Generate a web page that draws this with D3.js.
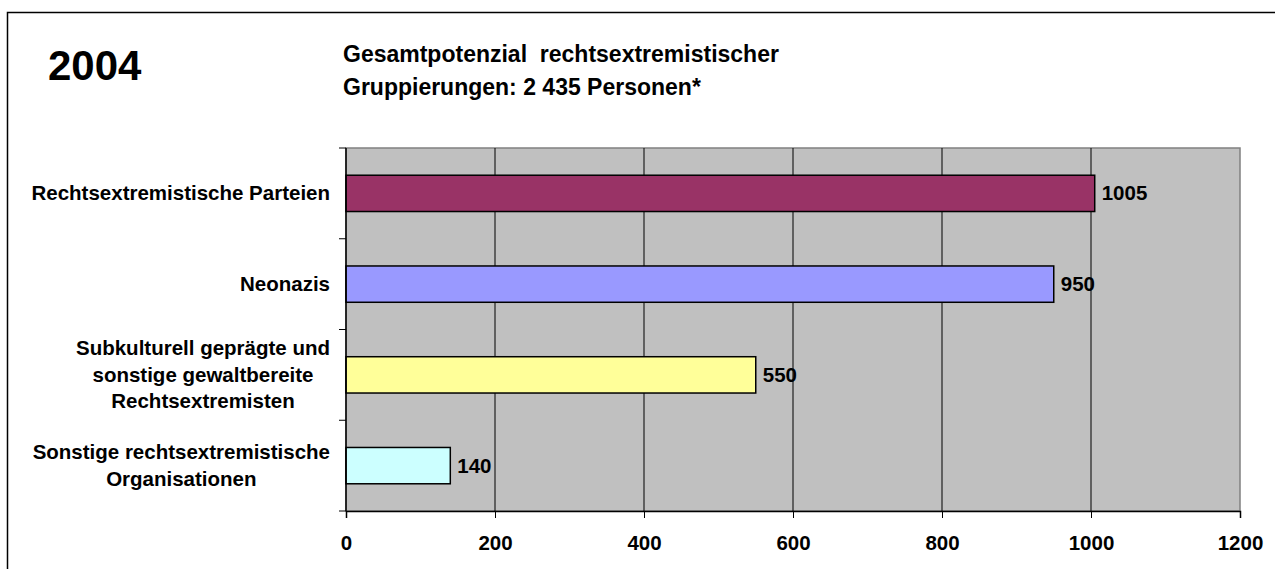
<!DOCTYPE html>
<html lang="de">
<head>
<meta charset="UTF-8">
<title>Gesamtpotenzial rechtsextremistischer Gruppierungen 2004</title>
<style>
  body { margin: 0; background: #fff; }
  svg text { font-family: "Liberation Sans", Arial, sans-serif; font-weight: bold; fill: #000; white-space: pre; }
</style>
</head>
<body>
<div id="chart"></div>
<script src="https://cdn.jsdelivr.net/npm/d3@7"></script>
<script>
// data
const categories = [
  ["Rechtsextremistische Parteien"],
  ["Neonazis"],
  ["Subkulturell geprägte und", "sonstige gewaltbereite", "Rechtsextremisten"],
  ["Sonstige rechtsextremistische", "Organisationen"]
];
const values = [1005, 950, 550, 140];
const xTicks = [0, 200, 400, 600, 800, 1000, 1200];
const barColors = ["#993366", "#9999ff", "#ffff99", "#ccffff"];

const W = 1275, H = 569;
const plot = { left: 346, right: 1240, top: 148, bottom: 511 };

const svg = d3.select("#chart").append("svg")
  .attr("width", W)
  .attr("height", H);

// outer frame (runs off the right and bottom edges)
svg.append("rect")
  .attr("x", 7.5).attr("y", 12.5)
  .attr("width", W + 20).attr("height", H + 20)
  .attr("fill", "none")
  .attr("stroke", "#000")
  .attr("stroke-width", 1.5);

svg.append("text")
  .attr("x", 48).attr("y", 80)
  .style("font-size", "42px")
  .text("2004");

const title = svg.append("text").style("font-size", "23px");
title.append("tspan").attr("x", 343).attr("y", 62).text("Gesamtpotenzial  rechtsextremistischer");
title.append("tspan").attr("x", 343).attr("y", 95).text("Gruppierungen: 2 435 Personen*");

const x = d3.scaleLinear()
  .domain([0, 1200])
  .range([plot.left, plot.right]);

const y = d3.scaleBand()
  .domain(d3.range(categories.length))
  .range([plot.top, plot.bottom])
  .paddingInner(0.6)
  .paddingOuter(0.3);

// plot area
svg.append("rect")
  .attr("x", plot.left).attr("y", plot.top)
  .attr("width", plot.right - plot.left)
  .attr("height", plot.bottom - plot.top)
  .attr("fill", "#c0c0c0")
  .attr("stroke", "#808080")
  .attr("stroke-width", 1.5);

// gridlines
svg.append("g")
  .selectAll("line")
  .data(xTicks.filter(d => d > 0 && d < 1200))
  .enter().append("line")
  .attr("x1", d => x(d)).attr("x2", d => x(d))
  .attr("y1", plot.top).attr("y2", plot.bottom)
  .attr("stroke", "#000")
  .attr("stroke-width", 1);

// bars
svg.append("g")
  .selectAll("rect")
  .data(values)
  .enter().append("rect")
  .attr("x", x(0))
  .attr("y", (d, i) => y(i))
  .attr("width", d => x(d) - x(0))
  .attr("height", y.bandwidth())
  .attr("fill", (d, i) => barColors[i])
  .attr("stroke", "#000")
  .attr("stroke-width", 1.5);

// value labels
svg.append("g")
  .selectAll("text")
  .data(values)
  .enter().append("text")
  .attr("x", d => x(d) + 7)
  .attr("y", (d, i) => y(i) + y.bandwidth() / 2 + 7)
  .style("font-size", "20.5px")
  .text(d => d);

// x axis
const xAxis = svg.append("g")
  .attr("transform", `translate(0,${plot.bottom})`)
  .call(d3.axisBottom(x).tickValues(xTicks).tickFormat(d3.format("d")).tickSize(7).tickPadding(17));
xAxis.select(".domain").attr("stroke", "#000").attr("stroke-width", 1.5);
xAxis.selectAll(".tick line").attr("stroke", "#000");
xAxis.selectAll("text")
  .style("font-size", "20.5px")
  .style("font-family", "'Liberation Sans', Arial, sans-serif")
  .style("font-weight", "bold")
  .attr("fill", "#000");

// category axis: line plus ticks between categories
const yAxis = svg.append("g");
yAxis.append("line")
  .attr("x1", plot.left).attr("x2", plot.left)
  .attr("y1", plot.top).attr("y2", plot.bottom)
  .attr("stroke", "#000").attr("stroke-width", 1.5);
yAxis.selectAll(".ct")
  .data(d3.range(categories.length + 1))
  .enter().append("line")
  .attr("class", "ct")
  .attr("x1", plot.left - 7).attr("x2", plot.left)
  .attr("y1", i => plot.top + i * y.step())
  .attr("y2", i => plot.top + i * y.step())
  .attr("stroke", "#000");

// category labels, lines centred within a right-aligned block
const lineH = 26.5;
const labelRight = 330;
categories.forEach((lines, i) => {
  const g = svg.append("g");
  const cy = y(i) + y.bandwidth() / 2;
  const t = g.selectAll("text")
    .data(lines)
    .enter().append("text")
    .style("font-size", "20.5px")
    .attr("text-anchor", "middle")
    .attr("y", (d, j) => cy + 7 + (j - (lines.length - 1) / 2) * lineH)
    .text(d => d);
  let maxW = 0;
  t.each(function () { maxW = Math.max(maxW, this.getComputedTextLength()); });
  t.attr("x", labelRight - maxW / 2);
});
</script>
</body>
</html>
